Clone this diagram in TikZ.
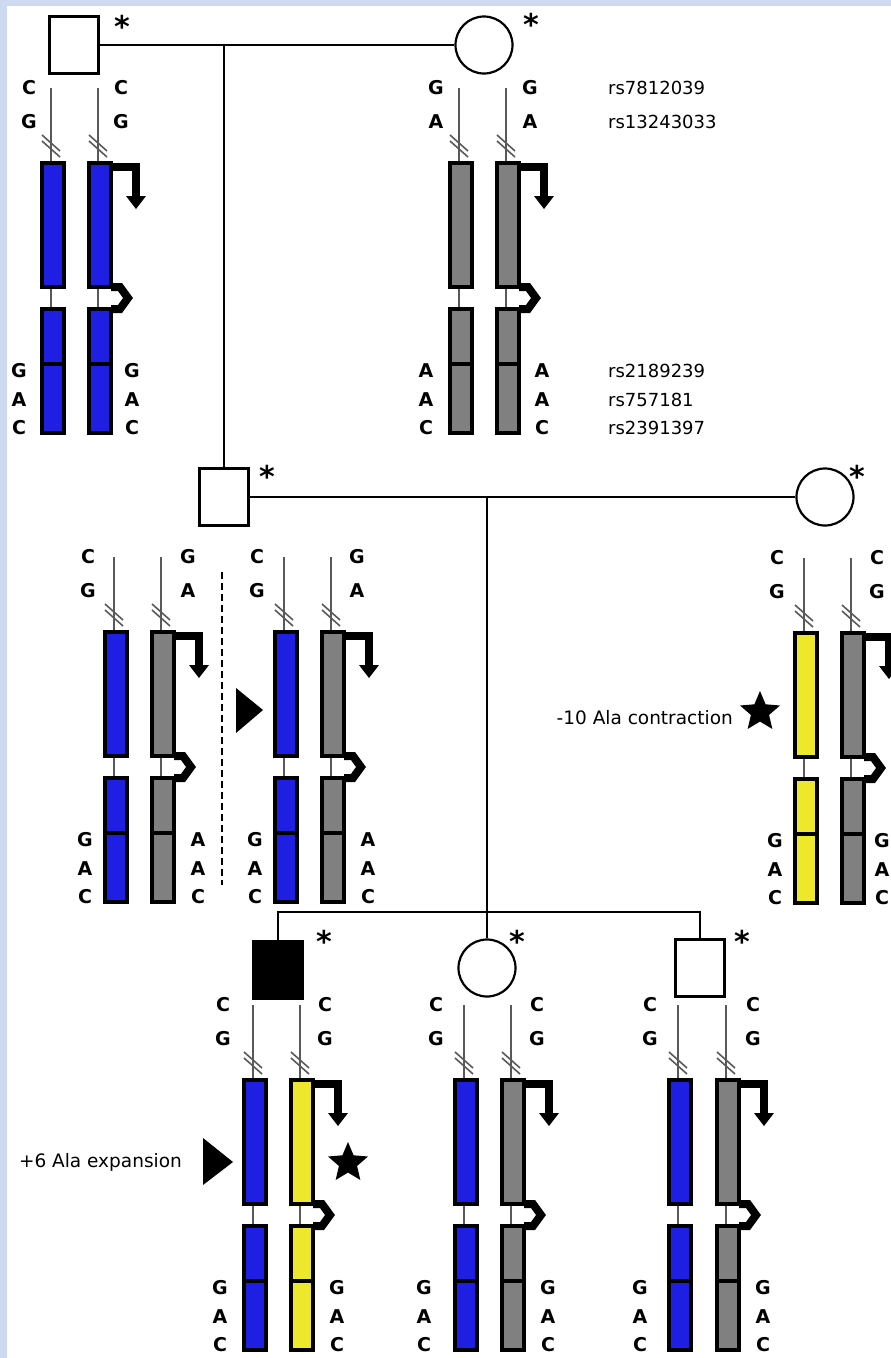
\documentclass[tikz,border=0pt]{standalone}
\usepackage{fontspec}
\setmainfont{DejaVu Sans}
\usepackage{tikz}
\usetikzlibrary{shapes.geometric}

\definecolor{ChromBlue}{RGB}{31,31,228}
\definecolor{ChromGray}{RGB}{128,128,128}
\definecolor{ChromYellow}{RGB}{238,232,44}
\definecolor{FrameBlue}{RGB}{205,217,240}

\def\half{11}
\tikzset{person/.style={draw, line width=2.2pt, fill=white, inner sep=0pt}}
\tikzset{male/.style={person, minimum width=49pt, minimum height=57pt}}
\tikzset{female/.style={person, circle, minimum size=57pt}}
\tikzset{tie/.style={line width=2pt}}
\tikzset{arm/.style={line width=3.8pt}}
\tikzset{thread/.style={line width=1.6pt, black!65}}
\tikzset{promo/.style={line width=8pt}}
\tikzset{snp/.style={font=\bfseries\fontsize{19}{21}\selectfont, inner sep=0pt}}
\tikzset{rsid/.style={font=\fontsize{18}{20}\selectfont, inner sep=0pt, anchor=west}}
\tikzset{note/.style={font=\fontsize{18.5}{20}\selectfont, inner sep=0pt, anchor=east}}
\tikzset{tested/.style={font=\bfseries\fontsize{30}{32}\selectfont, inner sep=0pt}}
\tikzset{mutstar/.style={star, star points=5, star point ratio=2.2, fill=black, minimum size=42pt, inner sep=0pt}}

% one chromosome: centre x, top y, colour
\newcommand{\chromo}[3]{%
  \draw[thread] (#1-2,#2-75) -- (#1-2,#2);
  \draw[thread] (#1-11,#2-28) -- (#1+7,#2-12);
  \draw[thread] (#1-11,#2-22) -- (#1+7,#2-6);
  \draw[thread] (#1-2,#2+124) -- (#1-2,#2+146);
  \filldraw[arm, fill=#3] (#1-\half,#2) rectangle (#1+\half,#2+124);
  \filldraw[arm, fill=#3] (#1-\half,#2+146) rectangle (#1+\half,#2+270);
  \draw[arm] (#1-\half,#2+201) -- (#1+\half,#2+201);
}
% bent arrow and chevron: centre x, top y
\newcommand{\promoter}[2]{%
  \draw[promo] (#1+\half,#2+4) -| (#1+36,#2+34);
  \fill (#1+26,#2+33) -- (#1+46,#2+33) -- (#1+36,#2+46) -- cycle;
  \draw[promo] (#1+\half,#2+124) -- (#1+20,#2+124) -- (#1+28,#2+135) -- (#1+20,#2+146) -- (#1+\half,#2+146);
}
% alleles: name, top x, bottom x, top y, five letters
\newcommand{\snps}[9]{%
  \node[snp] (#1a) at (#2,#4-75) {#5};
  \node[snp] (#1b) at (#2,#4-41) {#6};
  \node[snp] (#1c) at (#3,#4+208) {#7};
  \node[snp] (#1d) at (#3,#4+237) {#8};
  \node[snp] (#1e) at (#3,#4+265) {#9};
}

\begin{document}
\begin{tikzpicture}[x=1pt, y=-1pt]
\useasboundingbox (0,0) rectangle (891,1358);
\fill[FrameBlue] (0,0) rectangle (891,1358);
\fill[white] (7,6) rectangle (891,1358);
\clip (0,0) rectangle (891,1358);

% generation I
\node[male] (I1) at (74,45) {};
\node[female] (I2) at (484,45) {};
\node[tested] (I1t) at (122,26) {*};
\node[tested] (I2t) at (531,24) {*};
\coordinate (I12) at (224,45);
\draw[tie] (I1) -- (I2);

\chromo{53}{163}{ChromBlue}
\chromo{100}{163}{ChromBlue}
\promoter{100}{163}
\snps{Ia}{29}{19}{163}{C}{G}{G}{A}{C}
\snps{Ib}{121}{132}{163}{C}{G}{G}{A}{C}

\chromo{461}{163}{ChromGray}
\chromo{508}{163}{ChromGray}
\promoter{508}{163}
\snps{Ic}{436}{426}{163}{G}{A}{A}{A}{C}
\snps{Id}{530}{542}{163}{G}{A}{A}{A}{C}

\node[rsid] (rs1) at (608,88) {rs7812039};
\node[rsid] (rs2) at (608,122) {rs13243033};
\node[rsid] (rs3) at (608,371) {rs2189239};
\node[rsid] (rs4) at (608,400) {rs757181};
\node[rsid] (rs5) at (608,428) {rs2391397};

% generation II
\node[male] (II1) at (224,497) {};
\node[female] (II2) at (825,497) {};
\node[tested] (II1t) at (267,476) {*};
\node[tested] (II2t) at (857,476) {*};
\draw[tie] (I12) -- (II1);
\draw[tie] (II1) -- (II2);
\coordinate (II12) at (487,497);
\coordinate (sib) at (487,912);

\chromo{116}{632}{ChromBlue}
\chromo{163}{632}{ChromGray}
\promoter{163}{632}
\snps{IIa}{88}{85}{632}{C}{G}{G}{A}{C}
\snps{IIb}{188}{198}{632}{G}{A}{A}{A}{C}

\draw[line width=2pt, dash pattern=on 7pt off 4pt] (222,572) -- (222,885);
\fill (236,688) -- (236,733) -- (263,710) -- cycle;

\chromo{286}{632}{ChromBlue}
\chromo{333}{632}{ChromGray}
\promoter{333}{632}
\snps{IIc}{257}{255}{632}{C}{G}{G}{A}{C}
\snps{IId}{357}{368}{632}{G}{A}{A}{A}{C}

\chromo{806}{633}{ChromYellow}
\chromo{853}{633}{ChromGray}
\promoter{853}{633}
\snps{IIe}{777}{775}{633}{C}{G}{G}{A}{C}
\snps{IIf}{877}{882}{633}{C}{G}{G}{A}{C}
\node[mutstar] (IIstar) at (760,712) {};
\node[note] (IInote) at (733,718) {-10 Ala contraction};

% generation III
\node[male, fill=black] (III1) at (278,970) {};
\node[female] (III2) at (487,968) {};
\node[male] (III3) at (700,968) {};
\node[tested] (III1t) at (324,941) {*};
\node[tested] (III2t) at (517,941) {*};
\node[tested] (III3t) at (742,941) {*};
\coordinate (sibL) at (278,912);
\coordinate (sibR) at (700,912);
\draw[tie] (II12) -- (sib);
\draw[tie] (III1) -- (sibL) -- (sibR) -- (III3);
\draw[tie] (sib) -- (III2);

\chromo{255}{1080}{ChromBlue}
\chromo{302}{1080}{ChromYellow}
\promoter{302}{1080}
\snps{IIIa}{223}{220}{1080}{C}{G}{G}{A}{C}
\snps{IIIb}{325}{337}{1080}{C}{G}{G}{A}{C}
\fill (203,1138) -- (203,1185) -- (233,1162) -- cycle;
\node[note] (IIInote) at (182,1162) {+6 Ala expansion};
\node[mutstar] (IIIstar) at (348,1163) {};

\chromo{466}{1080}{ChromBlue}
\chromo{513}{1080}{ChromGray}
\promoter{513}{1080}
\snps{IIIc}{436}{424}{1080}{C}{G}{G}{A}{C}
\snps{IIId}{537}{548}{1080}{C}{G}{G}{A}{C}

\chromo{680}{1080}{ChromBlue}
\chromo{728}{1080}{ChromGray}
\promoter{728}{1080}
\snps{IIIe}{650}{640}{1080}{C}{G}{G}{A}{C}
\snps{IIIf}{753}{763}{1080}{C}{G}{G}{A}{C}
\end{tikzpicture}
\end{document}
